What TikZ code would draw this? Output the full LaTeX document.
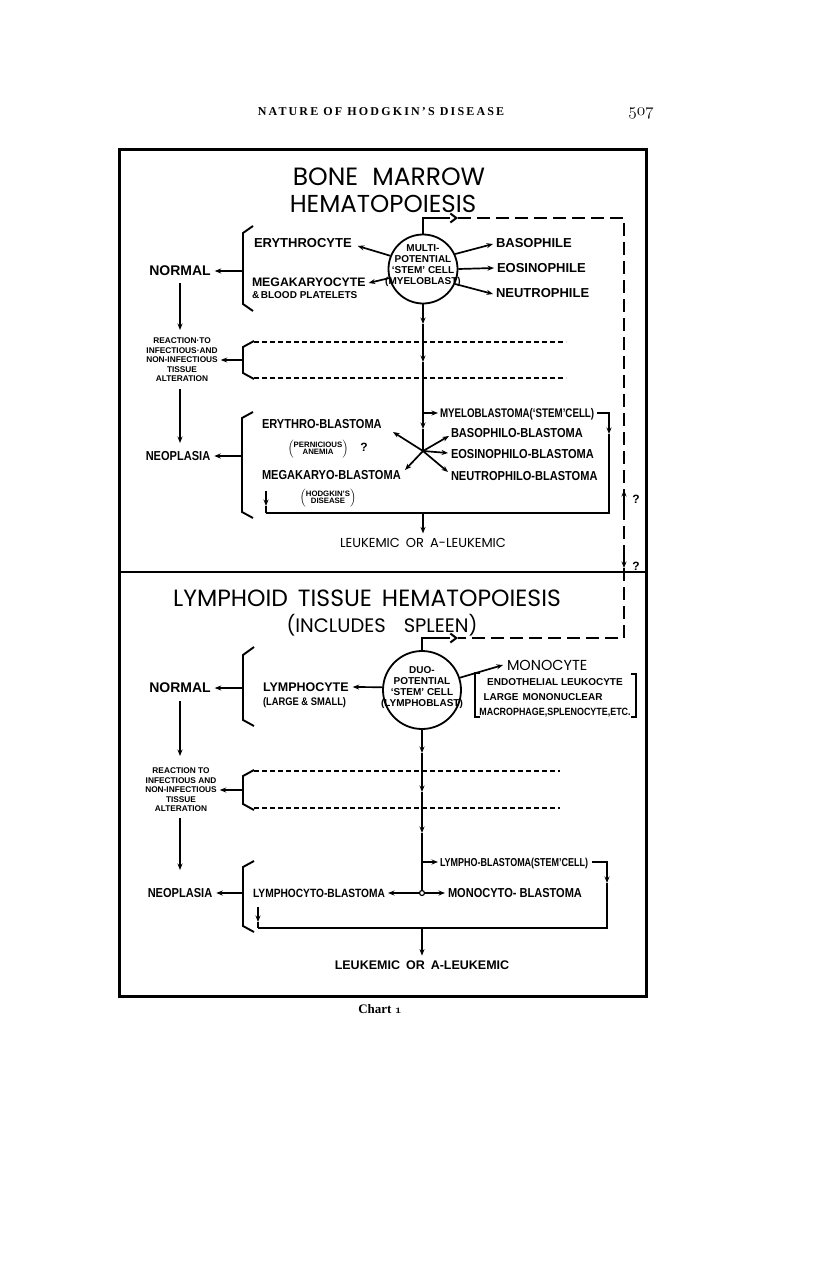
\documentclass[tikz,border=0pt]{standalone}
\usepackage{fontspec}
\usetikzlibrary{arrows.meta,calc}
\newfontfamily\labfont{Liberation Sans}
\newfontfamily\condfont[FakeStretch=0.85]{Liberation Sans}
\newfontfamily\narrowfont[FakeStretch=0.78]{Liberation Sans}
\newfontfamily\titlefont{Poppins}
\newfontfamily\headfont[LetterSpace=18]{Liberation Serif}
\newfontfamily\serifplain{Liberation Serif}
\newcommand\myfs[1]{\fontsize{#1}{#1}\selectfont}
\begin{document}
\begin{tikzpicture}[x=1pt,y=-1pt,
 txt/.style={inner sep=0pt,outer sep=0pt,text depth=0pt},
 lab/.style={txt,font=\labfont\bfseries\myfs{#1}}, lab/.default=13,
 cond/.style={txt,font=\condfont\bfseries\myfs{#1}}, cond/.default=13,
 narrow/.style={txt,font=\narrowfont\bfseries\myfs{#1}}, narrow/.default=12,
 ttl/.style={txt,font=\titlefont\myfs{#1}},
 tiny/.style={txt,align=center,font=\labfont\bfseries\fontsize{8.3}{9.5}\selectfont},
 paren/.style={txt,font=\labfont\bfseries\fontsize{7.8}{7.8}\selectfont\renewcommand\arraystretch{0.95}},
 lw/.style={line width=1.7pt},
 arr/.style={lw,-{Stealth[length=6.5pt,width=5pt]}},
 brk/.style={line width=1.9pt},
 fdash/.style={line width=1.4pt,dash pattern=on 5pt off 3pt},
 bdash/.style={line width=2pt,dash pattern=on 13pt off 6pt},
 barb/.style={-{Straight Barb[length=6pt,width=9pt]}},
 cell/.style={circle,draw,line width=1.8pt,inner sep=0pt},
 celltxt/.style={txt,align=center,font=\labfont\bfseries\fontsize{10}{11}\selectfont},
]
\useasboundingbox (0,0) rectangle (816,1266);
\fill[white] (0,0) rectangle (816,1266);

% header
\node[txt,font=\headfont\bfseries\myfs{12}] (hdr) at (381,112) {NATURE OF HODGKIN’S DISEASE};
\node[txt,font=\myfs{18}\usefont{OML}{cmm}{m}{it}] (pg) at (641,112) {507};

% frame
\draw[line width=3pt] (119,149) rectangle (646,996);
\draw[line width=2.5pt] (119,572) -- (646,572);

% ================= TOP =================
\node[ttl=25] (t1) at (389,177) {BONE\hspace{14pt}MARROW};
\node[ttl=24.5] (t2) at (383,204) {HEMATOPOIESIS};

\node[cell,minimum size=69pt] (mc) at (423,269) {};
\node[celltxt] (mct) at (423,265) {MULTI-\\POTENTIAL\\‘STEM’ CELL\\(MYELOBLAST)};

\node[lab,anchor=west] (ery) at (254,243) {ERYTHROCYTE};
\node[lab=12.3,anchor=west] (meg) at (252,282) {MEGAKARYOCYTE};
\node[lab=10,anchor=west] (megb) at (252,295) {\&\,BLOOD PLATELETS};
\node[lab,anchor=west] (bas) at (496,243) {BASOPHILE};
\node[lab,anchor=west] (eos) at (497,268) {EOSINOPHILE};
\node[lab,anchor=west] (neu) at (496,293) {NEUTROPHILE};
\draw[arr] (mc.158) -- ($(ery.east)+(6,3)$);
\draw[arr] (mc.195) -- ($(meg.east)+(3,1)$);
\draw[arr] (mc.25) -- ($(bas.west)+(-3,1)$);
\draw[arr] (mc.0) -- ($(eos.west)+(-3,0)$);
\draw[arr] (mc.-25) -- ($(neu.west)+(-3,1)$);

% left column
\node[lab=14] (nor1) at (180,271) {NORMAL};
\draw[brk] (253,226) -- (243,233) -- (243,304) -- (253,311);
\coordinate (b1) at (243,271);
\draw[arr] (b1) -- ($(nor1.east)+(4,0)$);
\coordinate (lv1a) at (180,283);
\coordinate (lv1b) at (180,330);
\draw[arr] (lv1a) -- (lv1b);

\node[tiny] (rea1) at (182,360) {REACTION·TO\\INFECTIOUS·AND\\NON-INFECTIOUS\\TISSUE\\ALTERATION};
\draw[brk] (254,341) -- (243,347) -- (243,373) -- (254,379);
\coordinate (b2) at (243,360);
\draw[arr] (b2) -- ($(rea1.east)+(3,0)$);
\coordinate (dsa1) at (254,342); \coordinate (dse1) at (566,342);
\coordinate (dsa2) at (254,378); \coordinate (dse2) at (566,378);
\draw[fdash] (dsa1) -- (dse1);
\draw[fdash] (dsa2) -- (dse2);

\node[cond] (neo1) at (178,456) {NEOPLASIA};
\coordinate (lv2a) at (180,389);
\coordinate (lv2b) at (180,443);
\draw[arr] (lv2a) -- (lv2b);
\draw[brk] (253,412) -- (242,418) -- (242,512) -- (253,518);
\coordinate (b3) at (242,456);
\draw[arr] (b3) -- ($(neo1.east)+(4,0)$);

% central flow
\coordinate (a1) at (423,324);
\coordinate (a2) at (423,362);
\coordinate (a3) at (423,429);
\coordinate (my) at (423,413);
\coordinate (x1) at (423,451);
\draw[arr] (mc.south) -- (a1);
\draw[arr] (a1) -- (a2);
\draw[arr] (a2) -- (a3);
\draw[lw] (a3) -- (x1);

\node[narrow=12.5,anchor=west] (myb) at (440,413) {MYELOBLASTOMA(‘STEM’CELL)};
\draw[arr] (my) -- ($(myb.west)+(-2,0)$);
\coordinate (rt) at (609,413);
\coordinate (ra) at (609,434);
\coordinate (rb) at (609,513);
\coordinate (lb) at (266,513);
\coordinate (lt) at (266,491);
\coordinate (la) at (266,506);
\coordinate (bm) at (423,513);
\draw[arr] ($(myb.east)+(3,0)$) -- (rt) -- (ra);
\draw[lw] (ra) -- (rb) -- (lb);
\draw[arr] (lt) -- (la);
\draw[lw] (la) -- (lb);

\node[ttl=13] (leu1) at (423,543) {LEUKEMIC\hspace{6pt}OR\hspace{6pt}A-LEUKEMIC};
\draw[arr] (bm) -- ($(leu1.north)+(0,-5)$);

\node[cond,anchor=west] (eryb) at (262,424) {ERYTHRO-BLASTOMA};
\node[cond,anchor=west] (megbl) at (262,475) {MEGAKARYO-BLASTOMA};
\node[cond,anchor=west] (basb) at (451,433) {BASOPHILO-BLASTOMA};
\node[cond,anchor=west] (eosb) at (451,454) {EOSINOPHILO-BLASTOMA};
\node[cond,anchor=west] (neub) at (451,476) {NEUTROPHILO-BLASTOMA};
\coordinate (te) at (393,432);
\coordinate (tm) at (405,470);
\coordinate (tb) at (449,436);
\coordinate (tq) at (448,453);
\coordinate (tn) at (448,472);
\draw[arr] (x1) -- (te);
\draw[arr] (x1) -- (tm);
\draw[arr] (x1) -- (tb);
\draw[arr] (x1) -- (tq);
\draw[arr] (x1) -- (tn);

\node[paren] (pern) at (318,446) {$\left(\begin{tabular}{@{}c@{}}PERNICIOUS\\ANEMIA\end{tabular}\right)$};
\node[lab=12] (q0) at (364,447) {?};
\node[paren] (hod) at (328,495) {$\left(\begin{tabular}{@{}c@{}}HODGKIN’S\\DISEASE\end{tabular}\right)$};

% dashed loop
\coordinate (dl1) at (423,218);
\coordinate (dl1b) at (437,218);
\coordinate (ah1) at (458,218);
\coordinate (dr1) at (624,218);
\coordinate (u1a) at (624,507);
\coordinate (u1b) at (624,490);
\coordinate (d1a) at (624,552);
\coordinate (d1b) at (624,568);
\coordinate (dr2) at (624,638);
\coordinate (ah2) at (458,638);
\coordinate (dl2b) at (437,638);
\coordinate (dl2) at (422,638);
\draw[lw] (mc.north) -- (dl1) -- (dl1b);
\draw[bdash,barb] (dl1b) -- (ah1);
\draw[bdash] (ah1) -- (dr1) -- (u1a);
\draw[arr] (u1a) -- (u1b);
\draw[bdash] (u1a) -- (d1a);
\draw[arr] (d1a) -- (d1b);
\draw[bdash] (d1b) -- (dr2) -- (ah2);
\node[lab=12] (qa) at (636,499) {?};
\node[lab=12] (qb) at (636,566) {?};

% ================= BOTTOM =================
\node[ttl=23.5] (t3) at (367,598) {LYMPHOID\hspace{10pt}TISSUE\hspace{10pt}HEMATOPOIESIS};
\node[ttl=19.5] (t4) at (382,623) {(INCLUDES\hspace{18pt}SPLEEN)};

\node[cell,minimum size=78pt] (lc) at (422,690) {};
\node[celltxt] (lct) at (422,686) {DUO-\\POTENTIAL\\‘STEM’ CELL\\(LYMPHOBLAST)};
\draw[lw] (lc.north) -- (dl2) -- (dl2b);
\draw[bdash,barb] (dl2b) -- (ah2);

\node[lab=14] (nor2) at (180,688) {NORMAL};
\draw[brk] (254,647) -- (243,655) -- (243,720) -- (254,726);
\coordinate (c1) at (243,688);
\draw[arr] (c1) -- ($(nor2.east)+(4,0)$);
\node[lab=12.5,anchor=west] (lym) at (263,687) {LYMPHOCYTE};
\node[cond=11,anchor=west] (lyms) at (263,702) {(LARGE \& SMALL)};
\draw[arr] (lc.176) -- ($(lym.east)+(4,0)$);
\node[ttl=14.5,anchor=west] (mono) at (507,665) {MONOCYTE};
\draw[arr] (lc.18) -- ($(mono.west)+(-4,0)$);
\draw[line width=1.5pt] (480,673) -- (475,673) -- (475,717) -- (480,717);
\draw[line width=1.5pt] (631,674) -- (636,674) -- (636,717) -- (631,717);
\node[lab=10] (endo) at (555,682) {ENDOTHELIAL LEUKOCYTE};
\node[lab=10] (lmono) at (543,697) {LARGE\hspace{4pt}MONONUCLEAR};
\node[cond=10.5] (macro) at (555,712) {MACROPHAGE,SPLENOCYTE,ETC.};

\coordinate (lv3a) at (180,701);
\coordinate (lv3b) at (180,756);
\draw[arr] (lv3a) -- (lv3b);
\node[tiny] (rea2) at (181,790) {REACTION TO\\INFECTIOUS AND\\NON-INFECTIOUS\\TISSUE\\ALTERATION};
\draw[brk] (254,770) -- (243,776) -- (243,804) -- (254,810);
\coordinate (c2) at (243,790);
\draw[arr] (c2) -- ($(rea2.east)+(3,0)$);
\coordinate (dsa3) at (254,771); \coordinate (dse3) at (560,771);
\coordinate (dsa4) at (254,808); \coordinate (dse4) at (560,808);
\draw[fdash] (dsa3) -- (dse3);
\draw[fdash] (dsa4) -- (dse4);

\coordinate (lv4a) at (180,818);
\coordinate (lv4b) at (180,870);
\draw[arr] (lv4a) -- (lv4b);
\node[cond] (neo2) at (180,893) {NEOPLASIA};
\draw[brk] (254,861) -- (243,867) -- (243,926) -- (254,932);
\coordinate (c3) at (243,893);
\draw[arr] (c3) -- ($(neo2.east)+(4,0)$);

\node[circle,draw,line width=1.2pt,fill=white,minimum size=5pt,inner sep=0pt] (jn) at (422,893) {};
\coordinate (e1) at (422,753);
\coordinate (e2) at (422,792);
\coordinate (e3) at (422,833);
\coordinate (lyb) at (422,862);
\draw[arr] (lc.south) -- (e1);
\draw[arr] (e1) -- (e2);
\draw[arr] (e2) -- (e3);
\draw[lw] (e3) -- (jn.north);

\node[narrow=11.5,anchor=west] (lymb) at (440,862) {LYMPHO-BLASTOMA(STEM’CELL)};
\draw[arr] (lyb) -- ($(lymb.west)+(-2,0)$);
\coordinate (rt2) at (607,862);
\coordinate (ra2) at (607,883);
\coordinate (rb2) at (607,928);
\coordinate (lb2) at (258,928);
\coordinate (lt2) at (258,907);
\coordinate (la2) at (258,922);
\coordinate (bm2) at (422,928);
\draw[arr] ($(lymb.east)+(4,0)$) -- (rt2) -- (ra2);
\draw[lw] (ra2) -- (rb2) -- (lb2);
\draw[arr] (lt2) -- (la2);
\draw[lw] (la2) -- (lb2);

\node[cond=12,anchor=east] (lcb) at (385,893) {LYMPHOCYTO-BLASTOMA};
\node[cond=13,anchor=west] (mcb) at (448,893) {MONOCYTO-\hspace{3pt}BLASTOMA};
\draw[arr] (jn.west) -- ($(lcb.east)+(3,0)$);
\draw[arr] (jn.east) -- ($(mcb.west)+(-3,0)$);

\node[lab=12.5] (leu2) at (422,965) {LEUKEMIC\hspace{6pt}OR\hspace{6pt}A-LEUKEMIC};
\draw[arr] (bm2) -- ($(leu2.north)+(0,-5)$);

% caption
\node[txt,font=\serifplain\bfseries\myfs{13}] (chart) at (380,1009) {Chart {\usefont{OML}{cmm}{b}{it}1}};
\end{tikzpicture}
\end{document}
